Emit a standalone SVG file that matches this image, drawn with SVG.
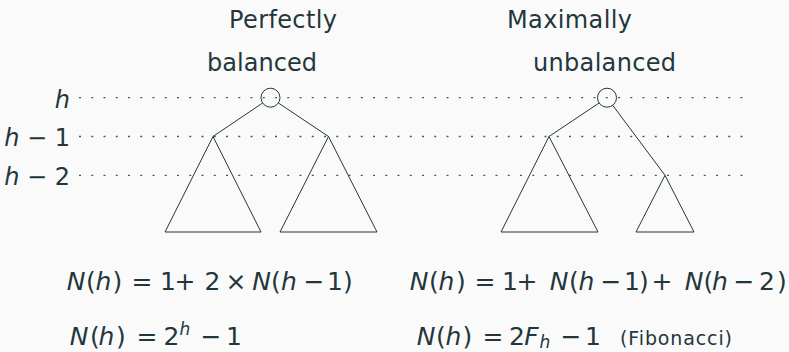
<svg xmlns="http://www.w3.org/2000/svg" width="789" height="352" viewBox="0 0 789 352">
<style>
text{fill:#23373b;font-family:"DejaVu Sans","Open Sans",sans-serif}
.t{font-size:24px;text-anchor:middle}
.lab{font-size:24px;text-anchor:end}
.f{font-size:25px;text-anchor:middle}
.i{font-style:italic}
.s{font-size:17px}
.dot{stroke:#46575a;stroke-width:1.3;stroke-dasharray:2 10.25;fill:none}
.e{stroke:#23373b;stroke-width:1;fill:none}
</style>
<rect width="789" height="352" fill="#fafafa"/>
<g id="titles">
<text class="t" x="283" y="28" textLength="108">Perfectly</text>
<text class="t" x="262" y="71" textLength="110">balanced</text>
<text class="t" x="569.5" y="28" textLength="125">Maximally</text>
<text class="t" x="604.5" y="71" textLength="143">unbalanced</text>
</g>
<g id="levels">
<line class="dot" x1="79" y1="97.7" x2="745" y2="97.7"/>
<line class="dot" x1="79" y1="136.5" x2="745" y2="136.5"/>
<line class="dot" x1="79" y1="175.3" x2="745" y2="175.3"/>
<text class="lab" x="70" y="108"><tspan class="i">h</tspan></text>
<text class="lab" x="70" y="146"><tspan class="i">h</tspan> − 1</text>
<text class="lab" x="70" y="184.5"><tspan class="i">h</tspan> − 2</text>
</g>
<g id="connectors">
<line class="e" x1="262.6" y1="103" x2="213" y2="136.5"/>
<line class="e" x1="278.4" y1="103" x2="328.5" y2="136.5"/>
<line class="e" x1="599.1" y1="103" x2="549" y2="136.5"/>
<line class="e" x1="612.7" y1="105.3" x2="665" y2="175.3"/>
</g>
<g id="root-balanced"><circle class="e" cx="270.5" cy="97.7" r="9.5" fill="#fafafa"/></g>
<g id="subtree-bl"><polygon class="e" points="213,136.5 165,232 261,232"/></g>
<g id="subtree-br"><polygon class="e" points="328.5,136.5 280,232 377,232"/></g>
<g id="root-unbalanced"><circle class="e" cx="607" cy="97.7" r="9.5" fill="#fafafa"/></g>
<g id="subtree-ul"><polygon class="e" points="549,136.5 501,232 598,232"/></g>
<g id="subtree-ur"><polygon class="e" points="665,175.3 636,232 694,232"/></g>
<g id="formulas">
<text class="f" y="290"><tspan x="76" class="i">N</tspan><tspan x="91">(</tspan><tspan x="103.5" class="i">h</tspan><tspan x="117.5">)</tspan><tspan x="142">=</tspan><tspan x="168">1</tspan><tspan x="185">+</tspan><tspan x="212.5">2</tspan><tspan x="236">×</tspan><tspan x="261.7" class="i">N</tspan><tspan x="276">(</tspan><tspan x="289" class="i">h</tspan><tspan x="314">−</tspan><tspan x="335">1</tspan><tspan x="348">)</tspan></text>
<text class="f" y="345"><tspan x="79" class="i">N</tspan><tspan x="95">(</tspan><tspan x="106.5" class="i">h</tspan><tspan x="121">)</tspan><tspan x="147">=</tspan><tspan x="171.5">2</tspan><tspan x="185" y="335" class="i s">h</tspan><tspan x="211" y="345">−</tspan><tspan x="234">1</tspan></text>
<text class="f" y="290"><tspan x="419" class="i">N</tspan><tspan x="434">(</tspan><tspan x="446.5" class="i">h</tspan><tspan x="461">)</tspan><tspan x="485">=</tspan><tspan x="510">1</tspan><tspan x="527">+</tspan><tspan x="559" class="i">N</tspan><tspan x="574">(</tspan><tspan x="586.5" class="i">h</tspan><tspan x="611">−</tspan><tspan x="632">1</tspan><tspan x="644">)</tspan><tspan x="662">+</tspan><tspan x="694" class="i">N</tspan><tspan x="708.5">(</tspan><tspan x="720" class="i">h</tspan><tspan x="744">−</tspan><tspan x="767">2</tspan><tspan x="782">)</tspan></text>
<text class="f" y="345"><tspan x="426" class="i">N</tspan><tspan x="441">(</tspan><tspan x="453.5" class="i">h</tspan><tspan x="467.5">)</tspan><tspan x="493">=</tspan><tspan x="517">2</tspan><tspan x="531.5" class="i">F</tspan><tspan x="545" y="347.5" class="i s">h</tspan><tspan x="571" y="345">−</tspan><tspan x="593">1</tspan></text>
<text x="620" y="345" font-size="19" textLength="112">(Fibonacci)</text>
</g>
</svg>
